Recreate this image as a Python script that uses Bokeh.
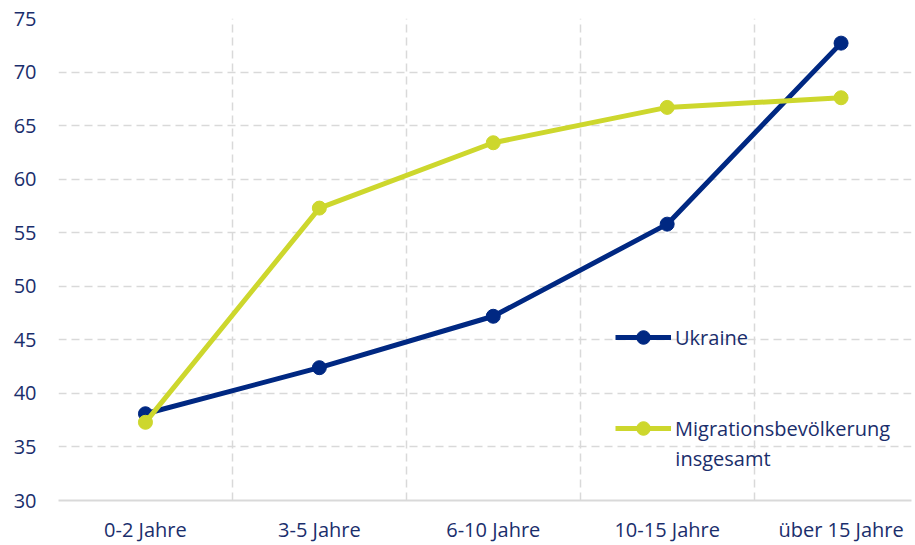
from bokeh.plotting import figure
from bokeh.models import FixedTicker, Legend, LegendItem, Label, Range1d
from bokeh.embed import file_html
from bokeh.resources import INLINE

categories = ["0-2 Jahre", "3-5 Jahre", "6-10 Jahre", "10-15 Jahre", "über 15 Jahre"]
ukraine = [38.1, 42.4, 47.2, 55.8, 72.7]
migration = [37.3, 57.3, 63.4, 66.7, 67.6]
y_ticks = [30, 35, 40, 45, 50, 55, 60, 65, 70, 75]

NAVY = "#002882"
LIME = "#CDD72D"
TEXT = "#1A2E6C"
GRID = "#D9D9D9"
FONT = "Open Sans"

xs = list(range(len(categories)))

p = figure(width=913, height=545, output_backend="svg", toolbar_location=None,
           x_range=Range1d(-0.5, 4.405), y_range=Range1d(30, 75),
           min_border_left=58, min_border_top=18, min_border_right=2, min_border_bottom=36)
p.outline_line_color = None

# axes
p.xaxis.ticker = FixedTicker(ticks=xs)
p.xaxis.major_label_overrides = {i: c for i, c in enumerate(categories)}
p.xaxis.major_tick_line_color = None
p.xaxis.minor_tick_line_color = None
p.xaxis.axis_line_color = GRID
p.xaxis.axis_line_width = 2
p.xaxis.major_label_standoff = 9
p.xaxis.major_label_text_font = FONT
p.xaxis.major_label_text_font_size = "20px"
p.xaxis.major_label_text_color = TEXT

p.yaxis.ticker = FixedTicker(ticks=y_ticks)
p.yaxis.major_tick_line_color = None
p.yaxis.minor_tick_line_color = None
p.yaxis.axis_line_color = None
p.yaxis.major_label_standoff = 16
p.yaxis.major_label_text_font = FONT
p.yaxis.major_label_text_font_size = "20px"
p.yaxis.major_label_text_color = TEXT

# grids
p.xgrid.ticker = FixedTicker(ticks=[-0.5, 0.5, 1.5, 2.5, 3.5])
p.xgrid.grid_line_color = GRID
p.xgrid.grid_line_dash = "8 5"
p.xgrid.grid_line_width = 1.5
p.ygrid.ticker = FixedTicker(ticks=y_ticks[1:])
p.ygrid.grid_line_color = GRID
p.ygrid.grid_line_dash = "8 5"
p.ygrid.grid_line_width = 1.5

# series
l1 = p.line(xs, ukraine, line_color=NAVY, line_width=5)
s1 = p.scatter(xs, ukraine, size=14, fill_color=NAVY, line_color=NAVY)
l2 = p.line(xs, migration, line_color=LIME, line_width=5)
s2 = p.scatter(xs, migration, size=14, fill_color=LIME, line_color=LIME)

def make_legend(label, rends, loc):
    lg = Legend(items=[LegendItem(label=label, renderers=rends)], location=loc,
                padding=0, margin=0, spacing=0, label_standoff=4,
                glyph_width=56, glyph_height=34, label_height=34,
                border_line_color=None, background_fill_alpha=0,
                label_text_font=FONT, label_text_font_size="20px",
                label_text_color=TEXT)
    p.add_layout(lg, "center")

make_legend("Ukraine", [l1, s1], (557, 146))
make_legend("Migrationsbevölkerung", [l2, s2], (557, 55))

p.add_layout(Label(x=3.047, y=33.9, text="insgesamt", text_font=FONT,
                   text_font_size="20px", text_color=TEXT, text_baseline="middle"))

open("out.html", "w").write(file_html(p, INLINE))
